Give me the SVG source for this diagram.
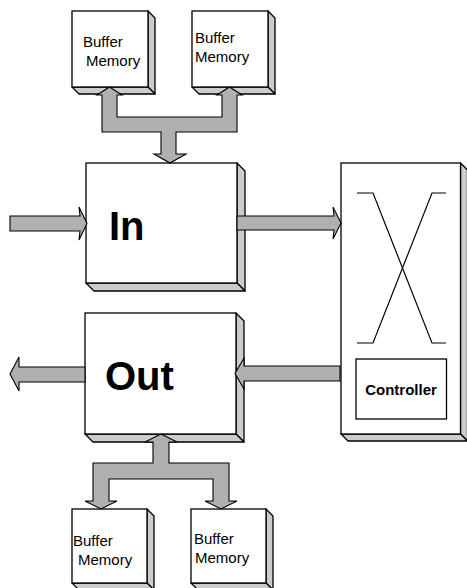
<svg xmlns="http://www.w3.org/2000/svg" width="467" height="588" viewBox="0 0 467 588">
<style>
.front{fill:#ffffff;stroke:#000;stroke-width:1.3}
.side{fill:#cccccc;stroke:#000;stroke-width:1.3;stroke-linejoin:round}
.arrow{fill:#b0b0b0;stroke:#000;stroke-width:1.1;stroke-linejoin:miter}
.line{fill:none;stroke:#000;stroke-width:1.2}
.small{font-family:"Liberation Sans",Arial,sans-serif;font-size:15px;fill:#000}
.big{font-family:"Liberation Sans",Arial,sans-serif;font-size:40px;font-weight:bold;fill:#000}
.ctl{font-family:"Liberation Sans",Arial,sans-serif;font-size:15px;font-weight:bold;fill:#000}
</style>
<rect width="467" height="588" fill="#ffffff"/>
<g id="buffer-top-left">
<polygon class="side" points="148,11 155,18 155,94 148,87"/>
<polygon class="side" points="72,87 148,87 155,94 79,94"/>
<rect class="front" x="72" y="11" width="76" height="76"/>
<text class="small" x="83" y="47">Buffer</text>
<text class="small" x="86" y="66">Memory</text>
</g>
<g id="buffer-top-right">
<polygon class="side" points="268,11 275,18 275,94 268,87"/>
<polygon class="side" points="192,87 268,87 275,94 199,94"/>
<rect class="front" x="192" y="11" width="76" height="76"/>
<text class="small" x="195" y="43">Buffer</text>
<text class="small" x="195" y="62">Memory</text>
</g>
<g id="in">
<polygon class="side" points="237,163 245,171 245,291 237,283"/>
<polygon class="side" points="86,283 237,283 245,291 94,291"/>
<rect class="front" x="86" y="163" width="151" height="120"/>
<text class="big" x="109" y="240">In</text>
</g>
<g id="out">
<polygon class="side" points="236,313 244,321 244,442 236,434"/>
<polygon class="side" points="85,434 236,434 244,442 93,442"/>
<rect class="front" x="85" y="313" width="151" height="121"/>
<text class="big" x="105" y="390">Out</text>
</g>
<g id="switch">
<polygon class="side" points="460.5,163 467.5,170 467.5,441 460.5,434"/>
<polygon class="side" points="341,434 460.5,434 467.5,441 348,441"/>
<rect class="front" x="341" y="163" width="119.5" height="271"/>
<polyline class="line" points="357,193 373,193 432,343 446,343"/>
<polyline class="line" points="446,193 432,193 373,343 357,343"/>
</g>
<g id="controller">
<rect class="front" x="356" y="359" width="90.5" height="60"/>
<text class="ctl" x="401" y="395" text-anchor="middle">Controller</text>
</g>
<g id="buffer-bottom-left">
<polygon class="side" points="147,509 154,516 154,590 147,583"/>
<polygon class="side" points="72,583 147,583 154,590 79,590"/>
<rect class="front" x="72" y="509" width="75" height="74"/>
<text class="small" x="73" y="546">Buffer</text>
<text class="small" x="78" y="565">Memory</text>
</g>
<g id="buffer-bottom-right">
<polygon class="side" points="266,509 273,516 273,590 266,583"/>
<polygon class="side" points="191,583 266,583 273,590 198,590"/>
<rect class="front" x="191" y="509" width="75" height="74"/>
<text class="small" x="194" y="544">Buffer</text>
<text class="small" x="195" y="563">Memory</text>
</g>
<g id="connectors">
<polygon class="arrow" points="109.5,87 122,95 117,95 117,117 222,117 222,95 217,95 229.5,87 242,95 237,95 237,132 176,132 176,154 186,154 170,163 154,154 161,154 161,132 102,132 102,95 97,95"/>
<polygon class="arrow" points="161,434 177,442 169,442 169,463 229,463 229,501 237,501 221,509 205,501 213,501 213,479 109,479 109,501 117,501 101,509 85,501 93,501 93,463 153,463 153,442 145,442"/>
<polygon class="arrow" points="10,216 80,216 79,207 87,223.5 79,240 80,231 10,231"/>
<polygon class="arrow" points="237,216 334,216 333,207 341,223 333,239 334,230 237,230"/>
<polygon class="arrow" points="340,366 244,366 244,358 235,373.5 244,389 244,381 340,381"/>
<polygon class="arrow" points="85,367 19,367 19,357 10,374 19,391 19,382 85,382"/>
</g>
</svg>
